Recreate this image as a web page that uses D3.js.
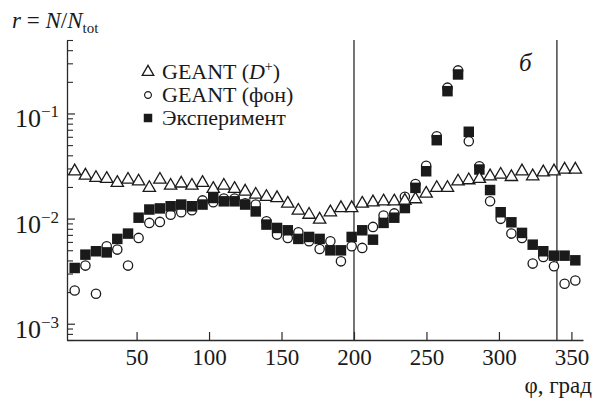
<!DOCTYPE html>
<html>
<head>
<meta charset="utf-8">
<script src="https://cdn.jsdelivr.net/npm/d3@7"></script>
<style>
  body { margin: 0; background: #fff; }
</style>
</head>
<body>
<div id="chart"></div>
<script>
// azimuth bins, degrees
var phi = [7.3, 14.7, 22.0, 29.4, 36.7, 44.1, 51.4, 58.8, 66.1, 73.5, 80.8, 88.2,
           95.5, 102.9, 110.2, 117.6, 124.9, 132.2, 139.6, 146.9, 154.3, 161.6, 169.0, 176.3,
           183.7, 191.0, 198.4, 205.7, 213.1, 220.4, 227.8, 235.1, 242.4, 249.8, 257.1, 264.5,
           271.8, 279.2, 286.5, 293.9, 301.2, 308.6, 315.9, 323.3, 330.6, 338.0, 345.3, 352.7];

// GEANT (D+), triangles
var geantD = [0.0282, 0.0257, 0.0244, 0.0239, 0.0219, 0.0235, 0.0226, 0.0196, 0.0235, 0.0206, 0.0216, 0.0206,
              0.0219, 0.0192, 0.0206, 0.0192, 0.0181, 0.0169, 0.0161, 0.0157, 0.0139, 0.0119, 0.0109, 0.0098,
              0.0115, 0.0126, 0.0126, 0.0139, 0.0143, 0.0146, 0.0146, 0.0148, 0.0153, 0.0173, 0.0196, 0.0196,
              0.0226, 0.0232, 0.0239, 0.0253, 0.0262, 0.0249, 0.0282, 0.0253, 0.0276, 0.0282, 0.0293, 0.0293];

// GEANT (background), circles
var geantBg = [0.00207, 0.00357, 0.00193, 0.00545, 0.00507, 0.00357, 0.00655, 0.0091, 0.0093, 0.0109, 0.0115, 0.0120,
               0.0149, 0.0143, 0.0155, 0.0155, 0.0140, 0.0136, 0.00942, 0.00704, 0.00655, 0.00741, 0.00608, 0.00514,
               0.00608, 0.00392, 0.00545, 0.00526, 0.00834, 0.0107, 0.0112, 0.0161, 0.0213, 0.0318, 0.0608, 0.176,
               0.257, 0.0545, 0.0315, 0.0146, 0.00994, 0.00720, 0.00655, 0.00373, 0.00431, 0.00352, 0.00240, 0.00258];

// experiment, filled squares
var experiment = [0.00339, 0.00454, 0.00489, 0.00477, 0.00641, 0.00720, 0.0102, 0.0122, 0.0125, 0.0131, 0.0136, 0.0131,
                  0.0136, 0.0157, 0.0146, 0.0146, 0.0136, 0.0117, 0.00877, 0.00815, 0.00774, 0.00641, 0.00669, 0.00641,
                  0.00499, 0.00499, 0.00669, 0.00774, 0.0063, 0.0091, 0.0102, 0.0126, 0.0196, 0.0282, 0.0557, 0.163,
                  0.235, 0.0670, 0.0293, 0.0187, 0.0115, 0.00922, 0.00731, 0.00565, 0.00489, 0.00444, 0.00444, 0.00401];

var xTicks = [50, 100, 150, 200, 250, 300, 350];
var yMajor = [1e-3, 1e-2, 1e-1];
var yExp = ["\u22123", "\u22122", "\u22121"];
var cutLines = [200, 340];
var legendLabels = ["GEANT (D+)", "GEANT (фон)", "Эксперимент"];

var W = 605, H = 403;
var FONT = "'Liberation Serif', 'DejaVu Serif', serif";
var ink = "#1a1a1a", axisColor = "#2a2a2a";

var svg = d3.select("#chart").append("svg")
    .attr("width", W)
    .attr("height", H)
    .attr("font-family", FONT);

var x = d3.scaleLinear().domain([2, 358]).range([67, 583]);
var y = d3.scaleLog().domain([7e-4, 0.5]).range([340, 40]);

// minor log ticks 2..9 of each decade inside the domain
var yMinor = [];
[1e-4, 1e-3, 1e-2, 1e-1].forEach(function(dec){
    for (var m = 2; m <= 9; m++) {
        var v = m * dec;
        if (v >= 7e-4 && v <= 0.5 + 1e-9) yMinor.push(v);
    }
});

// vertical cut lines
svg.selectAll(".cut")
    .data(cutLines)
    .enter().append("line")
    .attr("x1", function(d){ return x(d); })
    .attr("x2", function(d){ return x(d); })
    .attr("y1", 40).attr("y2", 340)
    .attr("stroke", axisColor)
    .attr("stroke-width", 1.3);

// x axis
var gx = svg.append("g")
    .attr("transform", "translate(0,340)")
    .call(d3.axisBottom(x).tickValues(xTicks).tickSizeInner(-8).tickSizeOuter(0).tickPadding(9));
gx.attr("font-family", FONT).attr("font-size", 23);
gx.select(".domain").attr("stroke", axisColor).attr("stroke-width", 1.3);
gx.selectAll(".tick line").attr("stroke", axisColor).attr("stroke-width", 1.2);
gx.selectAll(".tick text").attr("fill", ink);

// y axis minor ticks
var gyMinor = svg.append("g")
    .attr("transform", "translate(67,0)")
    .call(d3.axisLeft(y).tickValues(yMinor).tickSizeInner(-6).tickSizeOuter(0).tickFormat(function(){ return ""; }));
gyMinor.select(".domain").attr("stroke", axisColor).attr("stroke-width", 1.3);
gyMinor.selectAll(".tick line").attr("stroke", axisColor).attr("stroke-width", 1.1);

// y axis major ticks
var gy = svg.append("g")
    .attr("transform", "translate(67,0)")
    .call(d3.axisLeft(y).tickValues(yMajor).tickSizeInner(-8).tickSizeOuter(0).tickFormat(function(){ return ""; }));
gy.select(".domain").remove();
gy.selectAll(".tick line").attr("stroke", axisColor).attr("stroke-width", 1.2);

var yLab = svg.selectAll(".ylab")
    .data(yMajor)
    .enter().append("text")
    .attr("class", "ylab")
    .attr("x", 59)
    .attr("y", function(d){ return y(d) + 14; })
    .attr("text-anchor", "end")
    .attr("font-size", 26)
    .attr("fill", ink);
yLab.append("tspan").text("10");
yLab.append("tspan")
    .attr("font-size", 17)
    .attr("dy", -10)
    .text(function(d, i){ return yExp[i]; });

// markers
var triangle = d3.symbol().type(d3.symbolTriangle).size(66)();
var square = d3.symbol().type(d3.symbolSquare).size(110)();
var circle = d3.symbol().type(d3.symbolCircle).size(68)();

svg.append("g").selectAll("path")
    .data(geantBg)
    .enter().append("path")
    .attr("d", circle)
    .attr("transform", function(d, i){ return "translate(" + x(phi[i]) + "," + y(d) + ")"; })
    .attr("fill", "#fff").attr("stroke", ink).attr("stroke-width", 1.3);

svg.append("g").selectAll("path")
    .data(experiment)
    .enter().append("path")
    .attr("d", square)
    .attr("transform", function(d, i){ return "translate(" + x(phi[i]) + "," + y(d) + ")"; })
    .attr("fill", ink);

svg.append("g").selectAll("path")
    .data(geantD)
    .enter().append("path")
    .attr("d", triangle)
    .attr("transform", function(d, i){ return "translate(" + x(phi[i]) + "," + y(d) + ")"; })
    .attr("fill", "#fff").attr("stroke", ink).attr("stroke-width", 1.3);

// legend
var legY = [72, 95, 118];
svg.append("path").attr("d", d3.symbol().type(d3.symbolTriangle).size(58)())
    .attr("transform", "translate(148," + legY[0] + ")")
    .attr("fill", "#fff").attr("stroke", ink).attr("stroke-width", 1.3);
svg.append("path").attr("d", d3.symbol().type(d3.symbolCircle).size(36)())
    .attr("transform", "translate(148," + legY[1] + ")")
    .attr("fill", "#fff").attr("stroke", ink).attr("stroke-width", 1.2);
svg.append("path").attr("d", d3.symbol().type(d3.symbolSquare).size(72)())
    .attr("transform", "translate(148," + legY[2] + ")")
    .attr("fill", ink);

var l0 = svg.append("text").attr("x", 162).attr("y", legY[0] + 7).attr("font-size", 22).attr("fill", ink);
l0.append("tspan").text("GEANT (");
l0.append("tspan").attr("font-style", "italic").text("D");
l0.append("tspan").attr("font-size", 14).attr("dy", -8).text("+");
l0.append("tspan").attr("dy", 8).text(")");
svg.append("text").attr("x", 162).attr("y", legY[1] + 7).attr("font-size", 22).attr("fill", ink).text(legendLabels[1]);
svg.append("text").attr("x", 162).attr("y", legY[2] + 7).attr("font-size", 22).attr("fill", ink).text(legendLabels[2]);

// panel letter
svg.append("text").attr("x", 519).attr("y", 71).attr("fill", ink)
    .attr("font-size", 25).attr("font-style", "italic").text("б");

// y title
var yt = svg.append("text").attr("x", 12).attr("y", 28).attr("font-size", 23).attr("fill", ink);
yt.append("tspan").attr("font-style", "italic").text("r");
yt.append("tspan").text(" = ");
yt.append("tspan").attr("font-style", "italic").text("N");
yt.append("tspan").text("/");
yt.append("tspan").attr("font-style", "italic").text("N");
yt.append("tspan").attr("font-size", 15).attr("dy", 5).text("tot");

// x title
svg.append("text").attr("x", 592).attr("y", 393).attr("fill", ink)
    .attr("text-anchor", "end").attr("font-size", 23).text("φ, град");
</script>
</body>
</html>
